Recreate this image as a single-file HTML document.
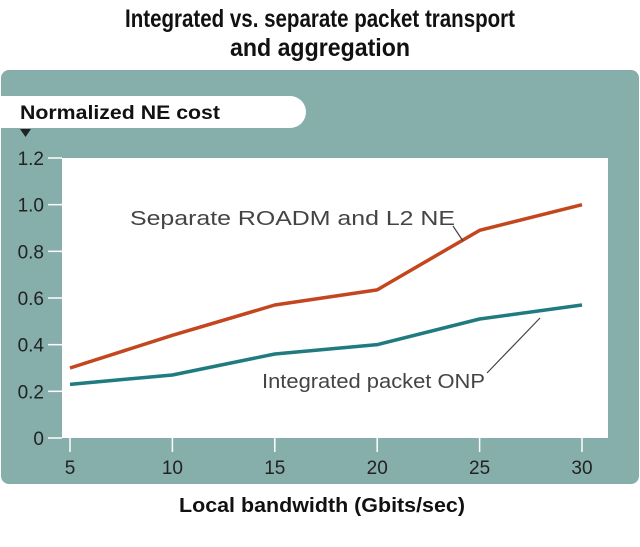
<!DOCTYPE html>
<html><head><meta charset="utf-8"><style>
body{margin:0;background:#fff;}
svg{display:block;font-family:"Liberation Sans",sans-serif;}
</style></head><body>
<svg id="chart" width="640" height="547" viewBox="0 0 640 547">
<text x="320" y="27" text-anchor="middle" font-size="25" font-weight="bold" fill="#111" textLength="390" lengthAdjust="spacingAndGlyphs">Integrated vs. separate packet transport</text>
<text x="320" y="56" text-anchor="middle" font-size="25" font-weight="bold" fill="#111" textLength="180" lengthAdjust="spacingAndGlyphs">and aggregation</text>
<rect x="1" y="70" width="638" height="414" rx="8" fill="#86aeab"/>
<path d="M1 96 H290 A16 16 0 0 1 290 128 H1 Z" fill="#fff"/>
<text x="20" y="119" font-size="19" font-weight="bold" fill="#111" textLength="200" lengthAdjust="spacingAndGlyphs">Normalized NE cost</text>
<path d="M20 129 H31 L25.5 137 Z" fill="#222"/>
<rect x="62" y="158" width="546" height="280" fill="#fff"/>
<g id="axes"></g>
<g id="series"></g>
<text x="130" y="225" font-size="20" fill="#444" textLength="325" lengthAdjust="spacingAndGlyphs">Separate ROADM and L2 NE</text>
<line x1="453" y1="226" x2="463" y2="241" stroke="#444" stroke-width="1.2"/>
<text x="262" y="388" font-size="20" fill="#444" textLength="223" lengthAdjust="spacingAndGlyphs">Integrated packet ONP</text>
<line x1="487" y1="373" x2="540" y2="318" stroke="#444" stroke-width="1.2"/>
<text x="322" y="512" text-anchor="middle" font-size="20" font-weight="bold" fill="#111" textLength="286" lengthAdjust="spacingAndGlyphs">Local bandwidth (Gbits/sec)</text>
</svg>
<script>
const categories=[5,10,15,20,25,30];
const separateValues=[0.30,0.44,0.57,0.635,0.89,1.0];
const integratedValues=[0.23,0.27,0.36,0.40,0.51,0.57];
const yTicks=[0,0.2,0.4,0.6,0.8,1.0,1.2];
const yTickLabels=["0","0.2","0.4","0.6","0.8","1.0","1.2"];
const NS="http://www.w3.org/2000/svg";
function xs(v){return 70+(v-5)*(582-70)/25;}
function ys(v){return 438-v*(280/1.2);}
function mk(t,a,p){const e=document.createElementNS(NS,t);for(const k in a)e.setAttribute(k,a[k]);p.appendChild(e);return e;}
const ax=document.getElementById('axes');
yTicks.forEach((v,i)=>{
 const l=mk('line',{x1:48,x2:62,y1:ys(v),y2:ys(v),stroke:'#fff','stroke-width':1.5},ax);
 
 
 const t=mk('text',{x:44,y:ys(v)+7,'text-anchor':'end','font-size':19,fill:'#222'},ax);
 t.textContent=yTickLabels[i];
 
 
});
categories.forEach(c=>{
 const l=mk('line',{x1:xs(c),x2:xs(c),y1:438,y2:452,stroke:'#fff','stroke-width':1.5},ax);
 
 
 const t=mk('text',{x:xs(c),y:474,'text-anchor':'middle','font-size':19,fill:'#222'},ax);
 t.textContent=String(c);
 
 
});
const sg=document.getElementById('series');
function line(vals,color,name){
 const d=vals.map((v,i)=>(i?'L':'M')+xs(categories[i])+' '+ys(v)).join(' ');
 const p=mk('path',{d:d,fill:'none',stroke:color,'stroke-width':3.5,'stroke-linejoin':'round'},sg);
 
 
}
line(separateValues,'#c4461f','line-separate-roadm-l2');
line(integratedValues,'#1f7b80','line-integrated-packet-onp');
</script>
</body></html>
